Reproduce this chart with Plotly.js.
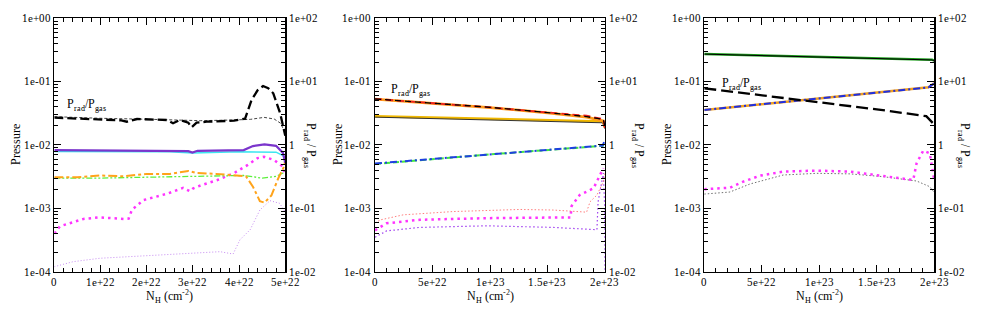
<!DOCTYPE html>
<html><head><meta charset="utf-8">
<script src="https://cdn.plot.ly/plotly-3.0.1.min.js"></script>
<style>
@font-face{font-family:"ChartSerif";src:local("Liberation Serif"),local("LiberationSerif-Regular"),local("LiberationSerif"),local("DejaVu Serif"),local("DejaVuSerif");}
html,body{margin:0;padding:0;background:#fff}
</style>
</head><body><div id="chart" style="width:981px;height:311px"></div>
<script>
// ---------- Panel 1 (N_H up to 5e22) ----------
const p1RatioX = [0, 0.99e22, 1.45e22, 1.57e22, 1.79e22, 2.44e22, 2.57e22, 2.72e22, 2.9e22, 2.97e22, 3.08e22, 3.3e22, 3.89e22, 4.13e22, 4.27e22, 4.4e22, 4.52e22, 4.63e22, 4.74e22, 4.89e22, 5.0e22];
const p1RatioY = [2.70, 2.57, 2.45, 2.33, 2.57, 2.48, 2.2, 2.48, 2.25, 1.9, 2.25, 2.33, 2.42, 2.60, 5.13, 7.3, 8.53, 7.9, 6.55, 3.16, 1.4];
const p1ThinDashX = [0, 0.99e22, 2.1e22, 3.17e22, 3.89e22, 4.25e22, 4.54e22, 4.76e22, 4.9e22, 5.0e22];
const p1ThinDashY = [0.0280, 0.0264, 0.0254, 0.0242, 0.0248, 0.0254, 0.0273, 0.0257, 0.0220, 0.0153];
const p1PurpleX = [0, 1e22, 2e22, 2.9e22, 2.99e22, 3.1e22, 4.1e22, 4.3e22, 4.55e22, 4.8e22, 4.95e22, 5.0e22];
const p1PurpleY = [0.0083, 0.0082, 0.0083, 0.0080, 0.0076, 0.0081, 0.0083, 0.0096, 0.0102, 0.0097, 0.0075, 0.0052];
const p1CyanX = [0, 2.5e22, 2.99e22, 4.0e22, 4.8e22, 4.95e22, 5.0e22];
const p1CyanY = [0.0079, 0.0078, 0.0075, 0.0078, 0.0077, 0.0068, 0.0058];
const p1OrangeX = [0, 0.5e22, 1e22, 1.5e22, 2e22, 2.5e22, 2.9e22, 3.1e22, 3.5e22, 4.0e22, 4.15e22, 4.3e22, 4.45e22, 4.55e22, 4.7e22, 4.85e22, 4.97e22, 5.0e22];
const p1OrangeY = [0.0031, 0.0031, 0.0033, 0.0032, 0.0035, 0.0035, 0.0039, 0.0036, 0.0035, 0.0033, 0.0032, 0.0022, 0.0013, 0.00123, 0.0016, 0.0030, 0.0045, 0.0058];
const p1GreenX = [0, 1e22, 2e22, 3e22, 4.1e22, 4.5e22, 4.8e22, 4.95e22, 5.0e22];
const p1GreenY = [0.0030, 0.0030, 0.0031, 0.0032, 0.0033, 0.0030, 0.0032, 0.0036, 0.0040];
const p1MagentaX = [0, 0.12e22, 0.63e22, 0.99e22, 1.5e22, 1.61e22, 1.68e22, 1.93e22, 2.44e22, 2.79e22, 2.94e22, 3.0e22, 3.17e22, 3.53e22, 3.89e22, 4.18e22, 4.4e22, 4.54e22, 4.76e22, 4.94e22, 5.0e22];
const p1MagentaY = [0.0004, 0.00052, 0.00068, 0.00072, 0.00068, 0.00069, 0.00095, 0.00135, 0.0017, 0.0021, 0.00186, 0.00205, 0.0023, 0.0028, 0.0036, 0.0048, 0.0062, 0.0065, 0.0058, 0.0046, 0.0034];
const p1VioletX = [0, 0.41e22, 0.99e22, 1.86e22, 2.94e22, 3.59e22, 3.87e22, 4.02e22, 4.24e22, 4.45e22, 4.67e22, 4.88e22, 4.99e22];
const p1VioletY = [0.00012, 0.000144, 0.000163, 0.000177, 0.000195, 0.000207, 0.00019, 0.00032, 0.00046, 0.00094, 0.00132, 0.0012, 0.00089];

// ---------- Panel 2 (N_H up to 2e23) ----------
const p2TopX = [0, 5e22, 10e22, 15e22, 18.4e22, 19.86e22, 20e22];
const p2RatioY = [5.32, 4.6, 3.93, 3.25, 2.8, 2.54, 1.9];
const p2OrangeY = [0.053, 0.0458, 0.039, 0.0322, 0.0275, 0.024, 0.019];
const p2RedY = [0.0533, 0.046, 0.0392, 0.0326, 0.029, 0.0255, 0.018];
const p2MidX = [0, 10e22, 19.8e22, 20e22];
const p2GoldY = [0.0285, 0.0258, 0.0235, 0.020];
const p2DarkY = [0.0275, 0.0250, 0.0224, 0.018];
const p2BlueY = [0.0051, 0.0071, 0.0098, 0.012];
const p2GreenY = [0.0050, 0.0071, 0.0097, 0.011];
const p2SalmonX = [0, 0.5e22, 2.46e22, 6.8e22, 12.6e22, 15.5e22, 18.4e22, 18.7e22, 19.3e22, 19.86e22, 20e22];
const p2SalmonY = [0.00059, 0.00066, 0.00079, 0.00089, 0.00096, 0.00094, 0.00087, 0.00127, 0.00162, 0.00264, 0.0036];
const p2MagentaX = [0, 1.0e22, 3.9e22, 9.7e22, 17.0e22, 17.1e22, 17.8e22, 19.0e22, 19.86e22];
const p2MagentaY = [0.00045, 0.00058, 0.00066, 0.00070, 0.00072, 0.00109, 0.00162, 0.00207, 0.0043];
const p2PurpleX = [0, 1.0e22, 3.9e22, 9.7e22, 15.5e22, 19.3e22, 19.4e22, 19.86e22, 19.98e22, 20e22];
const p2PurpleY = [0.00035, 0.00044, 0.0005, 0.00053, 0.0005, 0.00046, 0.00127, 0.0036, 0.001, 0.00005];

// ---------- Panel 3 (N_H up to 2e23) ----------
const p3TopX = [0, 10e22, 19.8e22, 20e22];
const p3GreenY = [0.2735, 0.245, 0.222, 0.214];
const p3BlackY = [0.272, 0.244, 0.220, 0.212];
const p3RatioX = [0, 5e22, 10e22, 15e22, 19.3e22, 20e22];
const p3RatioY = [7.85, 6.1, 4.75, 3.65, 2.85, 2.1];
const p3BlueX = [0, 10e22, 19.5e22, 20e22];
const p3BlueY = [0.0357, 0.054, 0.0813, 0.094];
const p3MagentaX = [0, 2.23e22, 3.4e22, 4.84e22, 6.87e22, 9.77e22, 12.67e22, 15.57e22, 18.17e22, 18.46e22, 19.04e22, 19.6e22, 20e22];
const p3MagentaY = [0.002, 0.00212, 0.00264, 0.00328, 0.0038, 0.00394, 0.0038, 0.00328, 0.0028, 0.00514, 0.00814, 0.0074, 0.0028];
const p3GreyX = [0, 2.23e22, 3.97e22, 6.87e22, 9.77e22, 12.67e22, 15.57e22, 18.46e22, 19.6e22, 20e22];
const p3GreyY = [0.00168, 0.00181, 0.00242, 0.00336, 0.00357, 0.0035, 0.00316, 0.0027, 0.0022, 0.00177];

// ---------- Tick labels ----------
const pTickVals = [1e-4, 1e-3, 1e-2, 1e-1, 1];
const pTickText = ['1e-04', '1e-03', '1e-02', '1e-01', '1e+00'];
const rTickVals = [1e-2, 1e-1, 1, 10, 100];
const rTickText = ['1e-02', '1e-01', '1', '1e+01', '1e+02'];
const x1TickVals = [0, 1e22, 2e22, 3e22, 4e22, 5e22];
const x1TickText = ['0', '1e+22', '2e+22', '3e+22', '4e+22', '5e+22'];
const x2TickVals = [0, 5e22, 1e23, 1.5e23, 2e23];
const x2TickText = ['0', '5e+22', '1e+23', '1.5e+23', '2e+23'];

const FONT = 'ChartSerif, Liberation Serif, serif';

function minorLog(lo, hi) {
  const out = [];
  for (let e = lo; e < hi; e++) for (let m = 2; m <= 9; m++) out.push(m * Math.pow(10, e));
  return out;
}

function tr(x, y, xa, ya, color, width, dash) {
  return {x: x, y: y, xaxis: xa, yaxis: ya, type: 'scatter', mode: 'lines',
    line: {color: color, width: width, dash: dash || 'solid'}, hoverinfo: 'skip', showlegend: false};
}

const data = [
  // panel 1
  tr(p1VioletX, p1VioletY, 'x', 'y', '#c58af0', 1, '1px,2px'),
  tr(p1MagentaX, p1MagentaY, 'x', 'y', '#ff33ff', 2.5, '2.5px,4px'),
  tr(p1GreenX, p1GreenY, 'x', 'y', '#5cf03c', 1.3, '6px,2px,2px,2px,2px,2px'),
  tr(p1OrangeX, p1OrangeY, 'x', 'y', '#ffa31a', 2, '9px,3px,3px,3px'),
  tr(p1CyanX, p1CyanY, 'x', 'y', '#3ee6f0', 1.5),
  tr(p1PurpleX, p1PurpleY, 'x', 'y', '#7b35cc', 2.2),
  tr(p1ThinDashX, p1ThinDashY, 'x', 'y', '#444444', 1, '3px,2px'),
  tr(p1RatioX, p1RatioY, 'x', 'y2', '#000000', 2.3, '9px,4px'),
  // panel 2
  tr(p2PurpleX, p2PurpleY, 'x2', 'y3', '#a040f0', 1.2, '1.5px,2.5px'),
  tr(p2MagentaX, p2MagentaY, 'x2', 'y3', '#ff33ff', 2.5, '2.5px,4px'),
  tr(p2SalmonX, p2SalmonY, 'x2', 'y3', '#ff7f7f', 1, '1.5px,2px'),
  tr(p2MidX, p2GreenY, 'x2', 'y3', '#40e840', 2, '6px,3px'),
  tr(p2MidX, p2BlueY, 'x2', 'y3', '#1f3fe0', 2, '7px,3px,2px,3px'),
  tr(p2MidX, p2GoldY, 'x2', 'y3', '#f0b800', 2.5),
  tr(p2MidX, p2DarkY, 'x2', 'y3', '#333333', 1),
  tr(p2TopX, p2OrangeY, 'x2', 'y3', '#ff9a1a', 2.8),
  tr(p2TopX, p2RedY, 'x2', 'y3', '#ee2020', 1.8, '7px,4px'),
  tr(p2TopX, p2RatioY, 'x2', 'y4', '#000000', 1.3, '6px,4px'),
  // panel 3
  tr(p3GreyX, p3GreyY, 'x3', 'y5', '#707070', 1, '1.5px,2px'),
  tr(p3MagentaX, p3MagentaY, 'x3', 'y5', '#ff33ff', 2.5, '2.5px,4px'),
  tr(p3BlueX, p3BlueY, 'x3', 'y5', '#f0a020', 2.5),
  tr(p3BlueX, p3BlueY, 'x3', 'y5', '#1f2fe0', 2, '7px,3px,2px,3px'),
  tr(p3TopX, p3GreenY, 'x3', 'y5', '#1ea01e', 2.5),
  tr(p3TopX, p3BlackY, 'x3', 'y5', '#000000', 1),
  tr(p3RatioX, p3RatioY, 'x3', 'y6', '#000000', 2.3, '12px,5px')
];

const YDOM = [0.1264, 0.9412];
const tickFont = {family: FONT, size: 11, color: '#000'};
const titleFont = {family: FONT, size: 12, color: '#000'};

function xAxis(domain, anchor, range, tv, tt, minorD) {
  return {domain: domain, anchor: anchor, range: range, type: 'linear',
    tickmode: 'array', tickvals: tv, ticktext: tt,
    ticks: 'inside', ticklen: 7, tickwidth: 1, tickcolor: '#000',
    showline: true, linecolor: '#000', linewidth: 1.5, mirror: 'ticks',
    showgrid: false, zeroline: false, tickfont: tickFont,
    minor: {tick0: 0, dtick: minorD, ticks: 'inside', ticklen: 4, tickwidth: 1, tickcolor: '#000', showgrid: false},
    title: {text: 'N<sub>H</sub> (cm<sup>-2</sup>)', font: titleFont, standoff: 4}};
}
function pAxis(anchor) {
  return {domain: YDOM, anchor: anchor, type: 'log', range: [-4, 0],
    tickmode: 'array', tickvals: pTickVals, ticktext: pTickText,
    ticks: 'inside', ticklen: 7, tickwidth: 1, tickcolor: '#000',
    showline: true, linecolor: '#000', linewidth: 1.5,
    showgrid: false, zeroline: false, tickfont: tickFont,
    minor: {tickmode: 'array', tickvals: minorLog(-4, 0), ticks: 'inside', ticklen: 4, tickwidth: 1, tickcolor: '#000', showgrid: false}};
}
function rAxis(anchor, over) {
  return {domain: YDOM, anchor: anchor, overlaying: over, side: 'right', type: 'log', range: [-2, 2],
    tickmode: 'array', tickvals: rTickVals, ticktext: rTickText,
    ticks: 'inside', ticklen: 7, tickwidth: 1, tickcolor: '#000',
    showline: true, linecolor: '#000', linewidth: 1.5,
    showgrid: false, zeroline: false, tickfont: tickFont,
    minor: {tickmode: 'array', tickvals: minorLog(-2, 2), ticks: 'inside', ticklen: 4, tickwidth: 1, tickcolor: '#000', showgrid: false}};
}

const ratioLabel = 'P<sub>rad</sub>/P<sub>gas</sub>';
const rightTitle = 'P<sub>rad</sub> / P<sub>gas</sub>';
function vt(xpx, text, angle) {
  return {xref: 'paper', yref: 'paper', x: xpx / 981, y: 0.5338, text: text, textangle: angle,
    showarrow: false, font: titleFont, xanchor: 'center', yanchor: 'middle'};
}

const layout = {
  width: 981, height: 311,
  margin: {l: 0, r: 0, t: 0, b: 0},
  paper_bgcolor: '#fff', plot_bgcolor: '#fff',
  font: {family: FONT, color: '#000'},
  showlegend: false,
  xaxis: xAxis([0.05535, 0.2908], 'y', [0, 5e22], x1TickVals, x1TickText, 2e21),
  xaxis2: xAxis([0.3823, 0.6167], 'y3', [0, 2e23], x2TickVals, x2TickText, 1e22),
  xaxis3: xAxis([0.7179, 0.9524], 'y5', [0, 2e23], x2TickVals, x2TickText, 1e22),
  yaxis: pAxis('x'),
  yaxis2: rAxis('x', 'y'),
  yaxis3: pAxis('x2'),
  yaxis4: rAxis('x2', 'y3'),
  yaxis5: pAxis('x3'),
  yaxis6: rAxis('x3', 'y5'),
  annotations: [
    {xref: 'x', yref: 'y', x: 0.7e22, y: -1.37, text: ratioLabel, showarrow: false, font: titleFont},
    {xref: 'x2', yref: 'y3', x: 3.1e22, y: -1.13, text: ratioLabel, showarrow: false, font: titleFont},
    {xref: 'x3', yref: 'y5', x: 3.2e22, y: -1.04, text: ratioLabel, showarrow: false, font: titleFont},
    vt(16, 'Pressure', -90), vt(338, 'Pressure', -90), vt(667, 'Pressure', -90),
    vt(310, rightTitle, 90), vt(638, rightTitle, 90), vt(964, rightTitle, 90)
  ]
};

if (document.fonts && document.fonts.load) {
  document.fonts.load('12px ChartSerif').then(function () {
    Plotly.newPlot('chart', data, layout, {displayModeBar: false, staticPlot: true});
  }, function () {
    Plotly.newPlot('chart', data, layout, {displayModeBar: false, staticPlot: true});
  });
} else {
  Plotly.newPlot('chart', data, layout, {displayModeBar: false, staticPlot: true});
}
</script>
</body></html>
